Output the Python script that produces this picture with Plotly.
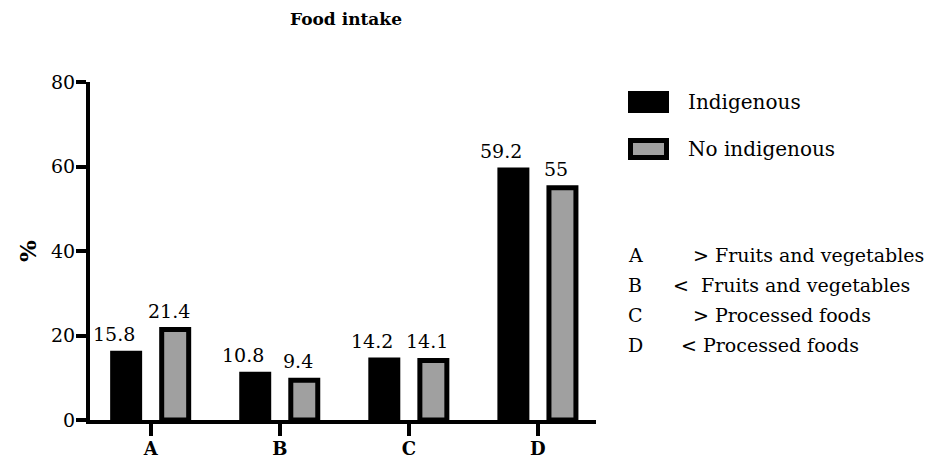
import plotly.graph_objects as go

categories = ["A", "B", "C", "D"]
indigenous = [15.8, 10.8, 14.2, 59.2]
no_indigenous = [21.4, 9.4, 14.1, 55]
series_names = ["Indigenous", "No indigenous"]
legend_codes = ["A", "B", "C", "D"]
legend_desc = ["> Fruits and vegetables", "<  Fruits and vegetables", "> Processed foods", "< Processed foods"]
y_ticks = [0, 20, 40, 60, 80]

FONT = "DejaVu Serif"
BLACK = "#000000"
GRAY = "#a0a0a0"

# page geometry (browser body has an 8px margin)
OFF = 8
W, H = 934 - OFF, 461 - OFF
L, R, T, B = 90 - OFF, 338, 82 - OFF, 41
PX0, PX1, PY0, PY1 = 90, 596, 82, 420  # plot area in page pixels

def px(x):
    return (x - PX0) / (PX1 - PX0)

def py(y):
    return (PY1 - y) / (PY1 - PY0)

BAR_LW = 5
fig = go.Figure()
fig.add_trace(go.Bar(
    x=categories, y=indigenous, name=series_names[0],
    marker=dict(color=BLACK, line=dict(color=BLACK, width=BAR_LW)),
))
fig.add_trace(go.Bar(
    x=categories, y=no_indigenous, name=series_names[1],
    marker=dict(color=GRAY, line=dict(color=BLACK, width=BAR_LW)),
))

# value labels above bars
XR = [-0.47, 3.45]
unit_px = (PX1 - PX0) / (XR[1] - XR[0])
bargap, bargroupgap = 0.24, 0.45
slot = (1 - bargap) / 2
offset_px = slot / 2 * unit_px
for vals, sgn, nudge in ((indigenous, -1, -12), (no_indigenous, 1, -6)):
    for c, v in zip(categories, vals):
        fig.add_annotation(x=c, y=v, text=f"{v:g}", showarrow=False,
                           xanchor="center", yanchor="bottom",
                           xshift=sgn * offset_px + nudge,
                           yshift=6, font=dict(family=FONT, size=19, color="black"))

fig.update_layout(
    width=W, height=H,
    margin=dict(l=L, r=R, t=T, b=B, autoexpand=False),
    plot_bgcolor="white", paper_bgcolor="white",
    barmode="group", bargap=bargap, bargroupgap=bargroupgap,
    showlegend=False,
    font=dict(family=FONT, color="black"),
    title=dict(text="<b>Food intake</b>", x=(346 - OFF) / W, xanchor="center",
               y=1 - (19 - OFF) / H, yanchor="middle", font=dict(family=FONT, size=17)),
)
fig.update_xaxes(
    range=XR, showline=True, linecolor="black", linewidth=4,
    ticks="outside", ticklen=12, tickwidth=4, tickcolor="black",
    tickfont=dict(family=FONT, size=18, color="black"), automargin=False,
    tickprefix="<b>", ticksuffix="</b>", showgrid=False, zeroline=False,
    ticklabelstandoff=-3,
)
fig.update_yaxes(
    range=[0, 80], tickvals=y_ticks, showline=True, linecolor="black", linewidth=4,
    ticks="outside", ticklen=10, tickwidth=4, tickcolor="black",
    tickfont=dict(family=FONT, size=19, color="black"), automargin=False,
    tickprefix="<b>", ticksuffix="</b>", showgrid=False, zeroline=False,
    ticklabelstandoff=-3,
)

# y axis title
fig.add_annotation(xref="paper", yref="paper", x=px(27), y=py(251), text="<b>%</b>",
                   textangle=-90, showarrow=False, xanchor="center", yanchor="middle",
                   font=dict(family=FONT, size=23, color="black"))

# custom legend
legend_rows = [(102, BLACK, 0), (149, GRAY, 5)]
for (yc, col, lw), name in zip(legend_rows, series_names):
    inset = lw / 2
    fig.add_shape(type="rect", xref="paper", yref="paper",
                  x0=px(628 + inset), x1=px(669 - inset),
                  y0=py(yc + 11 - inset), y1=py(yc - 11 + inset),
                  fillcolor=col, line=dict(color=BLACK, width=lw))
    fig.add_annotation(xref="paper", yref="paper", x=px(686), y=py(yc),
                       text=name, showarrow=False, xanchor="left", yanchor="middle",
                       font=dict(family=FONT, size=20, color="black"))

row_y = [255, 285, 315, 345]
desc_x = [691, 671, 691, 679]
for code, desc, yc, dx in zip(legend_codes, legend_desc, row_y, desc_x):
    fig.add_annotation(xref="paper", yref="paper", x=px(626), y=py(yc),
                       text=code, showarrow=False, xanchor="left", yanchor="middle",
                       font=dict(family=FONT, size=19, color="black"))
    fig.add_annotation(xref="paper", yref="paper", x=px(dx), y=py(yc),
                       text=desc, showarrow=False, xanchor="left", yanchor="middle",
                       font=dict(family=FONT, size=19, color="black"))

fig.write_html("out.html")
